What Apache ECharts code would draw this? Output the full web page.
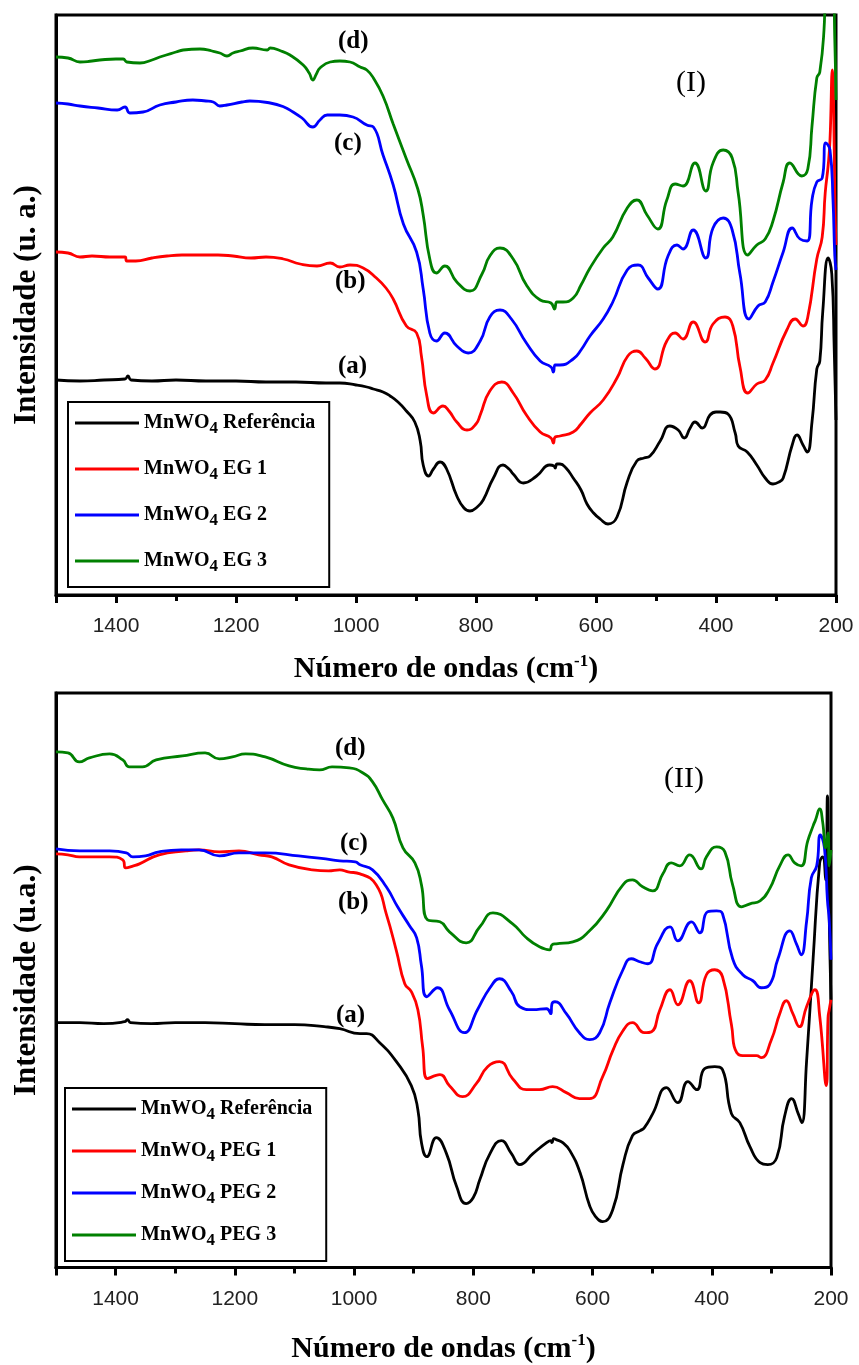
<!DOCTYPE html>
<html>
<head>
<meta charset="utf-8">
<script src="https://cdn.jsdelivr.net/npm/echarts@6/dist/echarts.min.js"></script>
<style>
html,body{margin:0;padding:0;background:#fff;}
#chart{width:859px;height:1365px;}
</style>
</head>
<body>
<div id="chart"></div>
<script>
// ---------- DATA (wavenumber cm-1, intensity a.u.) ----------
const xTicks = [200, 400, 600, 800, 1000, 1200, 1400];
const legendTop = ['MnWO4 Referência', 'MnWO4 EG 1', 'MnWO4 EG 2', 'MnWO4 EG 3'];
const legendBottom = ['MnWO4 Referência', 'MnWO4 PEG 1', 'MnWO4 PEG 2', 'MnWO4 PEG 3'];
const curveLabels = ['(a)', '(b)', '(c)', '(d)'];
const panelLabels = ['(I)', '(II)'];

// Panel I
const egRef = [[1500,215],[1460,214],[1420,215],[1385,216],[1380,219],[1375,215],[1340,214],[1300,215],[1250,214],[1200,214],[1150,213],[1100,213],[1050,212],[1027,212],[1000,210],[982,208],[971,206],[955,203],[943,199],[930,193],[916,184],[902,173],[893,154],[888,130],[879,119],[871,126],[860,133],[849,126],[832,99],[820,87],[810,84],[798,88],[788,95],[771,117],[755,130],[745,126],[738,121],[721,112],[699,119],[677,130],[670,129],[668,127],[665,131],[660,131],[650,127],[638,117],[625,105],[615,91],[604,82],[593,76],[580,71],[565,78],[548,113],[532,134],[520,137],[510,139],[493,154],[477,169],[463,165],[453,157],[443,167],[435,173],[423,167],[410,180],[400,183],[393,183],[380,181],[368,162],[363,149],[348,143],[332,130],[318,117],[305,111],[295,113],[288,117],[273,150],[265,160],[255,150],[248,143],[240,173],[232,226],[227,234],[222,284],[213,337],[207,321],[203,247],[200,175]];
const eg1 = [[1500,343],[1480,342],[1460,338],[1440,339],[1410,338],[1385,338],[1382,334],[1367,334],[1340,337],[1315,339],[1290,340],[1260,340],[1230,340],[1205,339],[1175,337],[1150,338],[1121,336],[1093,331],[1065,329],[1043,332],[1027,328],[1010,330],[988,327],[966,317],[950,307],[938,296],[916,269],[899,262],[891,239],[882,199],[871,182],[855,189],[845,184],[832,173],[815,165],[800,171],[793,180],[777,204],[757,213],[738,202],[716,180],[693,163],[675,157],[671,152],[668,158],[660,159],[638,163],[625,171],[610,182],[588,195],[565,217],[547,239],[532,244],[518,237],[502,226],[482,254],[468,262],[455,256],[438,273],[418,253],[405,271],[385,278],[372,269],[360,228],[347,202],[332,211],[318,215],[305,232],[282,265],[268,276],[255,269],[247,278],[232,336],[223,358],[218,402],[213,430],[210,455],[206,525],[204,490],[202,400],[200,350]];
const eg2 = [[1500,492],[1480,491],[1460,489],[1430,487],[1398,485],[1385,488],[1377,482],[1355,483],[1327,490],[1300,493],[1272,495],[1250,494],[1238,493],[1227,489],[1215,490],[1190,493],[1177,494],[1143,492],[1120,488],[1105,483],[1090,477],[1072,468],[1060,475],[1048,480],[1027,480],[1005,478],[982,470],[971,468],[955,440],[938,410],[921,371],[899,343],[888,306],[877,262],[866,254],[852,262],[832,249],[813,242],[793,254],[777,278],[760,285],[741,276],[716,252],[693,234],[675,228],[671,223],[668,230],[660,230],[638,236],[625,245],[610,259],[588,276],[572,293],[548,325],[530,330],[513,317],[497,306],[480,339],[465,350],[455,346],[438,365],[417,337],[405,367],[388,377],[373,365],[360,321],[345,276],[330,289],[318,293],[305,313],[288,343],[273,367],[260,356],[248,354],[240,395],[232,413],[223,417],[217,452],[210,445],[205,395],[202,339],[200,325]];
const eg3 = [[1500,538],[1480,537],[1460,533],[1440,534],[1427,535],[1400,536],[1388,536],[1382,533],[1360,532],[1340,535],[1327,538],[1300,543],[1288,545],[1260,546],[1240,544],[1227,542],[1215,539],[1205,542],[1193,544],[1172,547],[1148,545],[1143,547],[1125,544],[1110,540],[1088,530],[1078,522],[1072,515],[1066,521],[1060,527],[1043,533],[1027,534],[1010,533],[993,528],[982,525],[971,517],[955,499],[938,471],[916,436],[897,406],[888,380],[877,336],[866,322],[852,329],[832,313],[810,304],[790,321],[777,339],[760,347],[738,336],[716,310],[693,295],[675,292],[669,286],[665,293],[655,293],[638,297],[625,310],[610,327],[588,347],[572,358],[548,387],[532,395],[515,380],[497,366],[482,395],[468,411],[455,409],[435,432],[417,404],[405,432],[388,445],[373,437],[363,402],[347,340],[332,350],[318,356],[305,374],[288,413],[277,432],[257,419],[247,426],[240,469],[232,517],[227,523],[220,565],[216,625],[206,625],[202,555],[200,495]];

// Panel II
const pegRef = [[1500,245],[1460,245],[1420,244],[1385,246],[1380,248],[1375,245],[1340,244],[1300,245],[1250,245],[1200,244],[1150,243],[1100,243],[1050,241],[1024,239],[990,234],[979,234],[957,225],[929,206],[904,182],[893,158],[887,125],[878,111],[862,130],[845,114],[828,81],[812,64],[800,70],[789,88],[772,114],[753,127],[736,114],[722,103],[700,114],[677,125],[670,127],[668,125],[665,129],[661,128],[650,125],[638,117],[621,95],[605,62],[595,51],[583,46],[566,58],[549,103],[533,132],[520,137],[513,140],[499,154],[476,180],[457,165],[440,186],[425,178],[412,199],[395,201],[382,198],[367,154],[353,145],[336,121],[319,105],[306,103],[291,110],[278,151],[266,169],[255,154],[249,145],[241,206],[230,309],[219,405],[214,411],[209,388],[206,472],[204,391],[202,318],[200,268]];
const peg1 = [[1500,414],[1480,413],[1461,411],[1410,411],[1388,408],[1383,400],[1370,402],[1360,404],[1327,413],[1282,417],[1260,418],[1226,416],[1193,417],[1160,413],[1138,411],[1109,403],[1070,398],[1043,397],[1024,398],[1010,396],[990,394],[963,383],[946,354],[929,317],[915,284],[904,276],[893,258],[885,221],[877,189],[856,193],[840,182],[818,171],[795,184],[776,201],[756,206],[734,189],[711,178],[689,178],[667,181],[644,175],[622,169],[605,169],[583,191],[566,217],[549,237],[533,245],[513,235],[501,236],[487,258],[470,278],[457,263],[437,287],[422,265],[409,293],[395,298],[382,291],[367,243],[358,215],[342,212],[325,212],[317,210],[300,228],[286,254],[275,267],[264,254],[253,241],[241,261],[227,278],[219,252],[208,182],[205,250],[203,258],[200,268]];
const peg2 = [[1500,419],[1460,417],[1410,417],[1382,415],[1371,411],[1350,412],[1327,416],[1290,418],[1260,418],[1226,412],[1193,415],[1149,415],[1093,412],[1037,408],[1024,407],[998,406],[990,403],[969,398],[946,381],[927,361],[907,342],[895,330],[887,302],[878,271],[860,280],[840,258],[815,235],[793,258],[772,280],[756,289],[736,276],[722,261],[700,258],[677,259],[670,254],[668,264],[663,266],[644,254],[622,235],[605,228],[588,235],[571,265],[549,298],[535,309],[521,306],[507,304],[491,324],[470,341],[457,327],[434,346],[420,335],[407,356],[392,357],[382,354],[365,309],[348,293],[331,287],[317,280],[303,283],[289,309],[269,337],[258,324],[250,313],[241,346],[233,390],[224,402],[218,433],[211,420],[206,368],[203,348],[200,308]];
const peg3 = [[1500,516],[1480,515],[1461,506],[1444,510],[1410,514],[1388,508],[1377,501],[1355,501],[1332,508],[1288,512],[1250,515],[1226,509],[1204,511],[1182,514],[1149,511],[1109,502],[1080,499],[1058,498],[1037,501],[1008,500],[985,495],[969,486],[952,468],[935,450],[918,420],[898,405],[887,383],[877,348],[856,346],[840,336],[812,325],[789,341],[767,355],[734,344],[711,330],[689,321],[672,318],[668,323],[661,324],[633,326],[605,337],[577,357],[549,383],[533,388],[516,381],[499,377],[482,394],[468,405],[454,402],[437,413],[418,399],[409,411],[392,421],[378,416],[365,383],[350,361],[336,364],[319,367],[303,379],[286,402],[272,413],[261,405],[250,402],[239,427],[230,442],[226,448],[219,459],[214,446],[209,420],[205,435],[203,402],[200,418]];

// ---------- CHART ----------
const colors = ['#000000', '#ff0000', '#0000ff', '#008000'];
const serif = '"Liberation Serif", "Times New Roman", serif';
const sans = '"Liberation Sans", Arial, sans-serif';

function xAxisCfg(gridIndex, nameGap) {
  return {
    type: 'value', gridIndex: gridIndex, inverse: true,
    min: 200, max: 1500, interval: 200,
    name: 'Número de ondas (cm{sup|-1})',
    nameLocation: 'middle', nameGap: nameGap,
    nameTextStyle: {fontFamily: serif, fontWeight: 'bold', fontSize: 30, color: '#000',
      rich: {sup: {fontFamily: serif, fontWeight: 'bold', fontSize: 17, color: '#000', padding: [0,0,16,0]}}},
    axisLine: {show: true, onZero: false, lineStyle: {color: '#000', width: 3}},
    axisTick: {show: true, inside: false, length: 8, lineStyle: {color: '#000', width: 3}},
    minorTick: {show: true, splitNumber: 2, length: 6, lineStyle: {color: '#000', width: 3}},
    axisLabel: {show: true, fontFamily: sans, fontSize: 21, color: '#222', margin: 21, showMaxLabel: false,
      formatter: function (v) { return String(v); }},
    splitLine: {show: false}, minorSplitLine: {show: false}
  };
}
function yAxisCfg(gridIndex, name, max) {
  return {
    type: 'value', gridIndex: gridIndex, min: 0, max: max,
    name: name, nameLocation: 'middle', nameGap: 14, nameRotate: 90,
    nameTextStyle: {fontFamily: serif, fontWeight: 'bold', fontSize: 31, color: '#000'},
    axisLine: {show: true, lineStyle: {color: '#000', width: 3}},
    axisTick: {show: false}, axisLabel: {show: false}, splitLine: {show: false}
  };
}
function lineSeries(name, data, color, xi) {
  return {
    type: 'line', name: name, data: data, xAxisIndex: xi, yAxisIndex: xi,
    showSymbol: false, symbol: 'none', smooth: 0.5,
    lineStyle: {color: color, width: 2.8}, itemStyle: {color: color},
    clip: true, silent: true, animation: false
  };
}
function legendCfg(names, left, top, gap) {
  return {
    data: names, orient: 'vertical', left: left, top: top,
    icon: 'rect', itemWidth: 64, itemHeight: 3, itemGap: gap,
    borderColor: '#000', borderWidth: 2, padding: [11, 14, 12, 7],
    backgroundColor: '#fff',
    formatter: function (n) { return '{b|MnWO}{s|4}{b|' + n.slice(5) + '}'; },
    textStyle: {
      rich: {
        b: {fontFamily: serif, fontWeight: 'bold', fontSize: 20, color: '#000'},
        s: {fontFamily: serif, fontWeight: 'bold', fontSize: 17, color: '#000', padding: [11, 0, 0, 0]}
      }
    },
    selectedMode: false
  };
}
function txt(t, left, top, font) {
  return {type: 'text', left: left, top: top, z: 100, style: {text: t, font: font, fill: '#000'}};
}

const chart = echarts.init(document.getElementById('chart'), null, {renderer: 'canvas'});
const bold = 'bold 25px ' + serif;
const reg = '30px ' + serif;
chart.setOption({
  backgroundColor: '#fff',
  animation: false,
  grid: [
    {left: 56, top: 15, width: 780, height: 580, show: true, borderColor: '#000', borderWidth: 3, backgroundColor: 'transparent'},
    {left: 56, top: 693, width: 775, height: 575, show: true, borderColor: '#000', borderWidth: 3, backgroundColor: 'transparent'}
  ],
  xAxis: [xAxisCfg(0, 58), xAxisCfg(1, 65)],
  yAxis: [yAxisCfg(0, 'Intensidade (u. a.)', 580), yAxisCfg(1, 'Intensidade (u.a.)', 575)],
  legend: [legendCfg(legendTop, 68, 402, 22), legendCfg(legendBottom, 65, 1088, 18)],
  series: [
    lineSeries(legendTop[0], egRef, colors[0], 0),
    lineSeries(legendTop[1], eg1, colors[1], 0),
    lineSeries(legendTop[2], eg2, colors[2], 0),
    lineSeries(legendTop[3], eg3, colors[3], 0),
    lineSeries(legendBottom[0], pegRef, colors[0], 1),
    lineSeries(legendBottom[1], peg1, colors[1], 1),
    lineSeries(legendBottom[2], peg2, colors[2], 1),
    lineSeries(legendBottom[3], peg3, colors[3], 1)
  ],
  graphic: [
    txt(curveLabels[3], 338, 29, bold),
    txt(curveLabels[2], 334, 131, bold),
    txt(curveLabels[1], 335, 269, bold),
    txt(curveLabels[0], 338, 354, bold),
    txt(panelLabels[0], 676, 68, reg),
    txt(curveLabels[3], 335, 736, bold),
    txt(curveLabels[2], 340, 831, bold),
    txt(curveLabels[1], 338, 890, bold),
    txt(curveLabels[0], 336, 1003, bold),
    txt(panelLabels[1], 664, 764, reg)
  ]
});
</script>
</body>
</html>
